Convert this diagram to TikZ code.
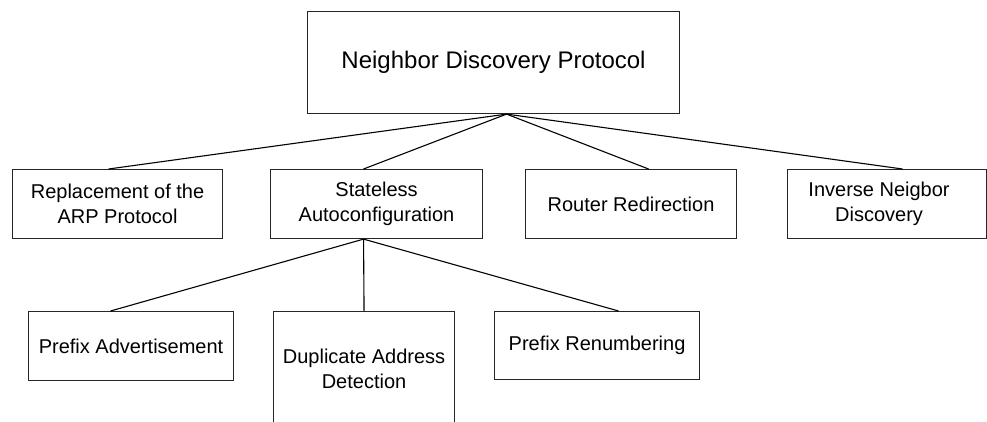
\documentclass[tikz,border=0pt]{standalone}
\usepackage{fontspec}
\setmainfont{Liberation Sans}
\usetikzlibrary{calc}
\begin{document}
\begin{tikzpicture}[x=1pt,y=-1pt,
  box/.style={draw=black!85, line width=1.1pt, anchor=north west, inner sep=0pt, align=center, font=\fontsize{20}{24.5}\selectfont},
  lbl/.style={inner sep=0pt, align=center, font=\fontsize{20}{24.5}\selectfont},
  link/.style={draw=black, line width=1.1pt}]
\useasboundingbox (0,0) rectangle (987,421);
\clip (0,0) rectangle (987,421);
% top
\node[box, minimum width=372, minimum height=102, font=\fontsize{24}{28}\selectfont] (ndp) at (307,11) {Neighbor Discovery Protocol};
% second row
\node[box, minimum width=210, minimum height=69] (rep) at (12,169) {Replacement of the\\ARP Protocol};
\node[box, minimum width=212, minimum height=69] (sta) at (270,169) {Stateless\\Autoconfiguration};
\node[box, minimum width=211, minimum height=69] (rtr) at (525,169) {Router Redirection};
\node[box, minimum width=199, minimum height=69] (inv) at (787,169) {};
\node[lbl] (invt) at ([xshift=-8pt]inv.center) {Inverse Neigbor\\Discovery};
% third row
\node[box, minimum width=205, minimum height=69] (pad) at (28,311) {Prefix Advertisement};
\node[box, minimum width=181, minimum height=115] (dad) at (273,311) {Duplicate Address\\Detection};
\node[box, minimum width=205, minimum height=68] (prn) at (494,311) {Prefix Renumbering};
% connectors
\coordinate (apex) at ([xshift=13pt]ndp.south);
\coordinate (sapex) at ([xshift=-13pt]sta.south);
\draw[link] (apex) -- ([xshift=-9pt]rep.north);
\draw[link] (apex) -- ([xshift=-13pt]sta.north);
\draw[link] (apex) -- ([xshift=17.5pt]rtr.north);
\draw[link] (apex) -- ([xshift=15.5pt]inv.north);
\draw[link] (sapex) -- ([xshift=-20.5pt]pad.north);
\draw[link] (sapex) -- (dad.north);
\draw[link] (sapex) -- ([xshift=21.5pt]prn.north);
\end{tikzpicture}
\end{document}
